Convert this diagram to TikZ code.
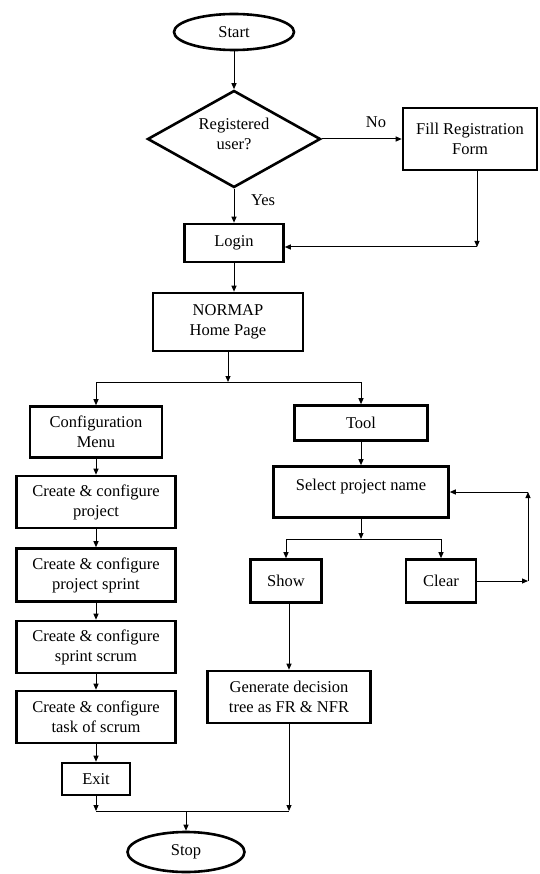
\documentclass[tikz,border=0pt]{standalone}
\usepackage{fontspec}
\setmainfont{Liberation Serif}
\usetikzlibrary{arrows.meta, positioning, shapes.geometric}

\begin{document}
\begin{tikzpicture}[
    x=1pt, y=-1pt,
    box/.style={draw, line width=2.6pt, inner sep=2pt, align=center, font=\fontsize{16.5}{20}\selectfont},
    term/.style={box, ellipse, minimum width=120pt, minimum height=36pt},
    decision/.style={box, diamond, aspect=1.8, inner sep=0pt, minimum width=173pt, minimum height=97pt},
    arrow/.style={-{Triangle[length=6pt, width=5pt]}, line width=1pt},
    line/.style={line width=1pt},
    label/.style={font=\fontsize{16.5}{20}\selectfont}
]
\useasboundingbox (0,0) rectangle (539,874);

% top part
\node[term] (start) at (234,32) {Start};
\node[decision] (reg) at (234,139) {Registered\\user?\\[-10pt]\mbox{}};
\node[box, minimum width=134pt, minimum height=62pt] (fill) at (470,139) {Fill Registration\\Form};
\node[box, minimum width=99pt, minimum height=38pt] (login) at (234,243) {Login};
\node[box, minimum width=150pt, minimum height=58pt] (normap) at (228,322) {NORMAP\\Home Page};

\draw[arrow] (start) -- (reg);
\draw[arrow] (reg) -- (fill);
\node[label] (no) at (376,122) {No};
\draw[arrow] (reg) -- (login);
\node[label] (yes) at (263,200) {Yes};
\coordinate (fillj) at (477,247);
\draw[arrow] (fillj |- fill.south) -- (fillj);
\draw[arrow] (fillj) -- (fillj -| login.east);
\draw[arrow] (login.south) -- (login.south |- normap.north);

% left column
\node[box, minimum width=132pt, minimum height=51pt] (config) at (96,432) {Configuration\\Menu};
\node[box, minimum width=159pt, minimum height=52pt] (proj) at (96,502) {Create \& configure\\project};
\node[box, minimum width=159pt, minimum height=53pt] (sprint) at (96,575) {Create \& configure\\project sprint};
\node[box, minimum width=159pt, minimum height=52pt] (scrum) at (96,647) {Create \& configure\\sprint scrum};
\node[box, minimum width=159pt, minimum height=52pt] (task) at (96,717) {Create \& configure\\task of scrum};
\node[box, minimum width=68pt, minimum height=32pt] (exit) at (96,779) {Exit};

% right column
\node[box, minimum width=133pt, minimum height=35pt] (tool) at (361,423) {Tool};
\node[box, minimum width=175pt, minimum height=51pt] (select) at (361,492) {Select project name\\[-6pt]\mbox{}};
\node[box, minimum width=71pt, minimum height=43pt] (show) at (286,581) {Show};
\node[box, minimum width=70pt, minimum height=43pt] (clear) at (441,581) {Clear};
\node[box, minimum width=163pt, minimum height=52pt] (gen) at (289,697) {Generate decision\\tree as FR \& NFR};
\node[term, minimum width=117pt, minimum height=40pt] (stop) at (186,852) {Stop};

\coordinate (split) at (228,382);
\draw[arrow] (normap) -- (split);
\draw[arrow] (split) -| (config);
\draw[arrow] (split) -| (tool);

\draw[arrow] (config) -- (proj);
\draw[arrow] (proj) -- (sprint);
\draw[arrow] (sprint) -- (scrum);
\draw[arrow] (scrum) -- (task);
\draw[arrow] (task) -- (exit);

\draw[arrow] (tool) -- (select);
\coordinate (split2) at (361,539);
\draw[arrow] (select) -- (split2);
\draw[arrow] (split2) -| (show);
\draw[arrow] (split2) -| (clear);

\coordinate (loopr) at (528,581);
\coordinate (loopt) at (528,492);
\draw[arrow] (clear) -- (loopr);
\draw[arrow] (loopr) -- (loopt);
\draw[arrow] (loopt) -- (select);

\draw[arrow] (gen.north |- show.south) -- (gen);

\coordinate (joinl) at (96,811);
\coordinate (joinr) at (289,811);
\coordinate (joinm) at (186,811);
\draw[arrow] (exit) -- (joinl);
\draw[arrow] (gen) -- (joinr);
\draw[line] (joinl) -- (joinr);
\draw[arrow] (joinm) -- (stop);
\end{tikzpicture}
\end{document}
